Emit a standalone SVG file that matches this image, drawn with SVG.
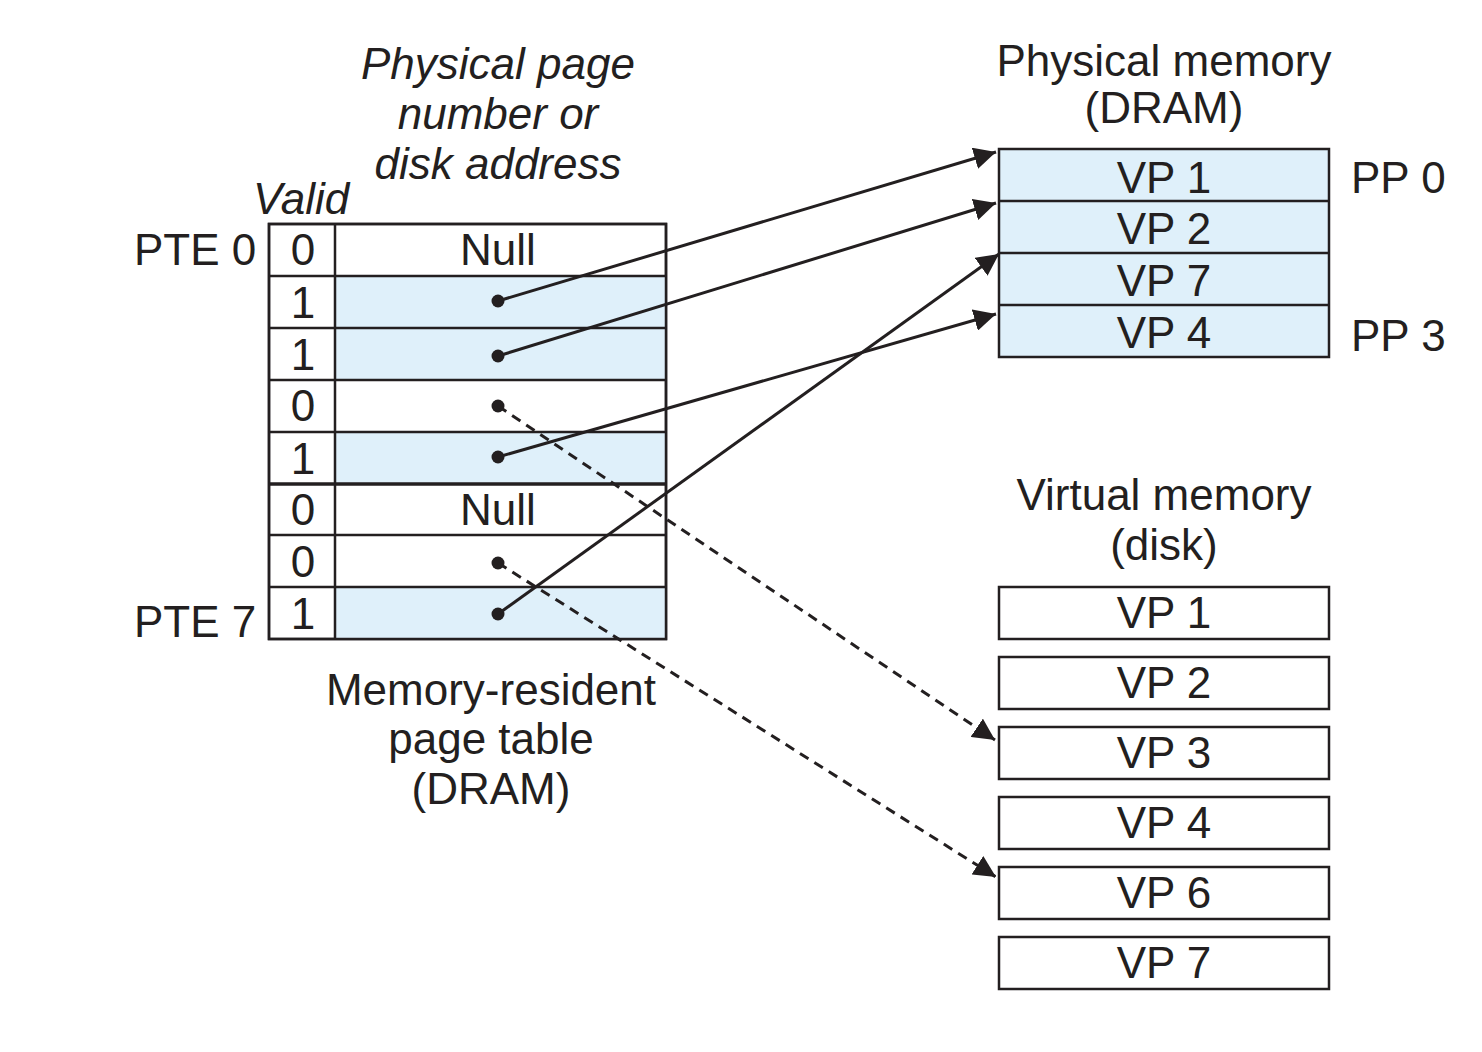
<svg xmlns="http://www.w3.org/2000/svg" width="1482" height="1052" viewBox="0 0 1482 1052">
<style>
text{font-family:"Liberation Sans",Arial,sans-serif;font-size:44px;fill:#231f20}
.c{text-anchor:middle}
.i{font-style:italic}
.box{stroke:#231f20;stroke-width:2.5;fill:#fff}
.blue{fill:#dff0fa}
.ln{stroke:#231f20;stroke-width:2.5;fill:none}
.cn{stroke:#231f20;stroke-width:3;fill:none}
.dash{stroke-dasharray:10,7}
.dot{fill:#231f20}
</style>
<defs>
<marker id="ah" viewBox="0 0 10 10" refX="10" refY="5" markerWidth="22" markerHeight="22" markerUnits="userSpaceOnUse" orient="auto">
<path d="M0,0 L10,5 L0,10 z" fill="#231f20"/>
</marker>
</defs>
<rect width="1482" height="1052" fill="#fff"/>

<g id="labels">
<text class="c i" x="498" y="79">Physical page</text>
<text class="c i" x="498" y="129">number or</text>
<text class="c i" x="498" y="179">disk address</text>
<text class="i" x="253" y="214">Valid</text>
<text x="134" y="265">PTE 0</text>
<text x="134" y="637">PTE 7</text>
<text class="c" x="491" y="705">Memory-resident</text>
<text class="c" x="491" y="754">page table</text>
<text class="c" x="491" y="804">(DRAM)</text>
<text class="c" x="1164" y="76">Physical memory</text>
<text class="c" x="1164" y="123">(DRAM)</text>
<text x="1351" y="193">PP 0</text>
<text x="1351" y="351">PP 3</text>
<text class="c" x="1164" y="510">Virtual memory</text>
<text class="c" x="1164" y="560">(disk)</text>
</g>

<g id="page-table">
<rect class="box" x="269" y="224" width="397" height="415"/>
<rect class="blue" x="335" y="276" width="331" height="104"/>
<rect class="blue" x="335" y="432" width="331" height="52"/>
<rect class="blue" x="335" y="587" width="331" height="52"/>
<path class="ln" d="M335,224 V639 M269,276 H666 M269,328 H666 M269,380 H666 M269,432 H666 M269,535 H666 M269,587 H666"/>
<path d="M269,484 H666" stroke="#231f20" stroke-width="3.5"/>
<rect x="269" y="224" width="397" height="415" fill="none" stroke="#231f20" stroke-width="2.5"/>
<text class="c" x="303" y="265">0</text>
<text class="c" x="303" y="318">1</text>
<text class="c" x="303" y="370">1</text>
<text class="c" x="303" y="421">0</text>
<text class="c" x="303" y="474">1</text>
<text class="c" x="303" y="525">0</text>
<text class="c" x="303" y="577">0</text>
<text class="c" x="303" y="629">1</text>
<text class="c" x="498" y="265">Null</text>
<text class="c" x="498" y="525">Null</text>
<circle class="dot" cx="498" cy="301" r="6.5"/>
<circle class="dot" cx="498" cy="356" r="6.5"/>
<circle class="dot" cx="498" cy="406" r="6.5"/>
<circle class="dot" cx="498" cy="457" r="6.5"/>
<circle class="dot" cx="498" cy="563" r="6.5"/>
<circle class="dot" cx="498" cy="614" r="6.5"/>
</g>

<g id="physical-memory">
<rect class="box blue" x="999" y="149" width="330" height="208"/>
<path class="ln" d="M999,201 H1329 M999,253 H1329 M999,305 H1329"/>
<text class="c" x="1164" y="193">VP 1</text>
<text class="c" x="1164" y="244">VP 2</text>
<text class="c" x="1164" y="296">VP 7</text>
<text class="c" x="1164" y="348">VP 4</text>
</g>

<g id="disk">
<rect class="box" x="999" y="587" width="330" height="52"/>
<rect class="box" x="999" y="657" width="330" height="52"/>
<rect class="box" x="999" y="727" width="330" height="52"/>
<rect class="box" x="999" y="797" width="330" height="52"/>
<rect class="box" x="999" y="867" width="330" height="52"/>
<rect class="box" x="999" y="937" width="330" height="52"/>
<text class="c" x="1164" y="628">VP 1</text>
<text class="c" x="1164" y="698">VP 2</text>
<text class="c" x="1164" y="768">VP 3</text>
<text class="c" x="1164" y="838">VP 4</text>
<text class="c" x="1164" y="908">VP 6</text>
<text class="c" x="1164" y="978">VP 7</text>
</g>

<g id="connectors">
<line class="cn" x1="498" y1="301" x2="996" y2="152" marker-end="url(#ah)"/>
<line class="cn" x1="498" y1="356" x2="996" y2="203" marker-end="url(#ah)"/>
<line class="cn" x1="498" y1="457" x2="996" y2="314" marker-end="url(#ah)"/>
<line class="cn" x1="498" y1="614" x2="999" y2="254" marker-end="url(#ah)"/>
<line class="cn dash" x1="498" y1="406" x2="995" y2="740" marker-end="url(#ah)"/>
<line class="cn dash" x1="498" y1="563" x2="996" y2="877" marker-end="url(#ah)"/>
</g>
</svg>
